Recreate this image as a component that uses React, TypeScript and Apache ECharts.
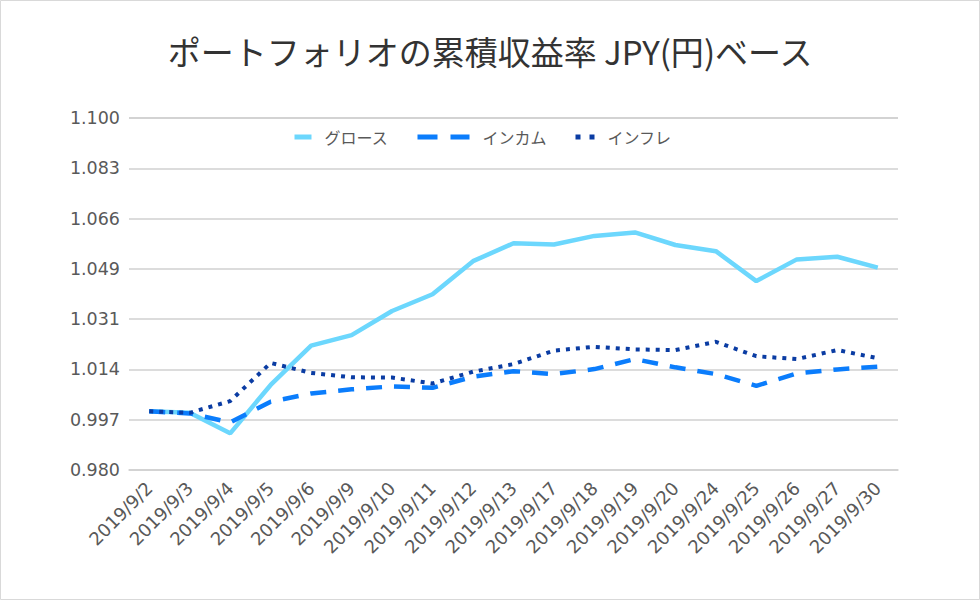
import React, { useEffect, useRef } from "react";
import * as echarts from "echarts";

const TITLE = "ポートフォリオの累積収益率 JPY(円)ベース";
const categories = [
  "2019/9/2", "2019/9/3", "2019/9/4", "2019/9/5", "2019/9/6", "2019/9/9",
  "2019/9/10", "2019/9/11", "2019/9/12", "2019/9/13", "2019/9/17", "2019/9/18",
  "2019/9/19", "2019/9/20", "2019/9/24", "2019/9/25", "2019/9/26", "2019/9/27",
  "2019/9/30",
];
const seriesNames = ["グロース", "インカム", "インフレ"];
const growth = [
  1.0, 0.9995, 0.9925, 1.009, 1.0224, 1.026, 1.0342, 1.0399, 1.0512, 1.0573,
  1.0569, 1.0598, 1.061, 1.0567, 1.0546, 1.0444, 1.0518, 1.0527, 1.049,
];
const income = [
  1.0, 0.9993, 0.9962, 1.0033, 1.0061, 1.0075, 1.0085, 1.008, 1.0118, 1.0137,
  1.0127, 1.0144, 1.0178, 1.015, 1.0127, 1.0087, 1.0129, 1.0143, 1.0152,
];
const inflation = [
  1.0, 0.9995, 1.0035, 1.0165, 1.0131, 1.0116, 1.0115, 1.0095, 1.0135, 1.0161,
  1.0207, 1.022, 1.0211, 1.0209, 1.0237, 1.0188, 1.0178, 1.0209, 1.0181,
];
const yMin = 0.98;
const yMax = 1.1;
const ySteps = 7;

const colors = ["#6cd7fd", "#0b7dfc", "#0a3ca3"];
const labelColor = "#595959";

export default function App() {
  const ref = useRef<HTMLDivElement>(null);
  useEffect(() => {
    document.body.style.margin = "0";
    const chart = echarts.init(ref.current!, null, { renderer: "svg" });
    const legendText = {
      color: labelColor,
      fontSize: 16,
      fontFamily: "Noto Sans CJK JP",
      padding: [0, 0, 0, 8],
    };
    const legendBase = {
      top: 129,
      padding: 0,
      itemHeight: 14,
      textStyle: legendText,
      itemStyle: { opacity: 0 },
    };
    chart.setOption({
      animation: false,
      backgroundColor: "#ffffff",
      title: {
        text: TITLE,
        left: "center",
        top: 29,
        textStyle: {
          fontFamily: "Noto Sans CJK JP",
          fontSize: 33,
          fontWeight: "normal",
          color: "#333333",
        },
      },
      graphic: [
        {
          type: "rect",
          shape: { x: 0.5, y: 0.5, width: 979, height: 599 },
          style: { fill: "none", stroke: "#d9d9d9", lineWidth: 1 },
          silent: true,
        },
      ],
      legend: [
        {
          ...legendBase,
          data: [seriesNames[0]],
          left: 292,
          itemWidth: 17,
          lineStyle: { width: 5 },
        },
        {
          ...legendBase,
          data: [seriesNames[1]],
          left: 415,
          itemWidth: 52,
          lineStyle: { width: 5, type: [20, 13] },
        },
        {
          ...legendBase,
          data: [seriesNames[2]],
          left: 573,
          itemWidth: 19,
          lineStyle: { width: 5, type: [5, 9] },
        },
      ],
      grid: { left: 129, right: 82, top: 118, bottom: 130, containLabel: false },
      xAxis: {
        type: "category",
        data: categories,
        boundaryGap: true,
        axisLine: { show: true, lineStyle: { color: "#d0d0d0", width: 1.5 } },
        axisTick: { show: false },
        axisLabel: {
          rotate: 45,
          margin: 15,
          interval: 0,
          color: labelColor,
          fontSize: 18,
          fontFamily: "DejaVu Sans",
        },
      },
      yAxis: {
        type: "value",
        min: yMin,
        max: yMax,
        interval: (yMax - yMin) / ySteps,
        axisLine: { show: false },
        axisTick: { show: false },
        splitLine: { lineStyle: { color: "#d0d0d0", width: 1.5 } },
        axisLabel: {
          margin: 9,
          color: labelColor,
          fontSize: 17.5,
          fontFamily: "DejaVu Sans",
          formatter: (v: number) => v.toFixed(3),
        },
      },
      series: [
        {
          name: seriesNames[0],
          type: "line",
          data: growth,
          symbol: "none",
          lineStyle: { color: colors[0], width: 4.5 },
          itemStyle: { color: colors[0] },
        },
        {
          name: seriesNames[1],
          type: "line",
          data: income,
          symbol: "none",
          lineStyle: { color: colors[1], width: 4.5, type: [16, 12] },
          itemStyle: { color: colors[1] },
        },
        {
          name: seriesNames[2],
          type: "line",
          data: inflation,
          symbol: "none",
          lineStyle: { color: colors[2], width: 4, type: [4, 6] },
          itemStyle: { color: colors[2] },
        },
      ],
    });
    return () => chart.dispose();
  }, []);
  return <div ref={ref} style={{ width: 980, height: 600 }} />;
}
